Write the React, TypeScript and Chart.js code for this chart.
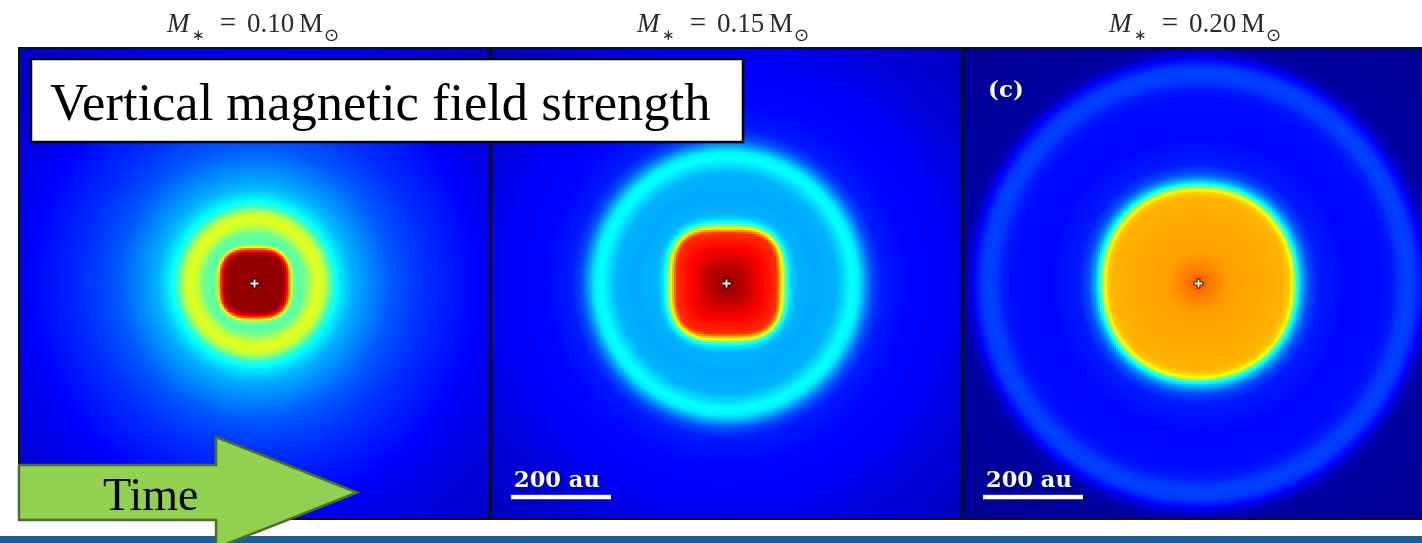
import React, { useEffect, useRef } from 'react';
import { Chart, registerables } from 'chart.js';

Chart.register(...registerables);

// Stellar mass of each snapshot (solar masses)
const stellarMasses = ['0.10', '0.15', '0.20'];

// Radial profiles of the normalised vertical field |Bz| (colour-scale units, 0..1)
// against distance from the protostar in au.
const radiusAuA = [0, 56, 62, 68, 72, 76, 84, 100, 112, 126, 140, 148, 156, 170, 194, 220, 274, 340, 414, 474, 560, 670];
const fieldA = [0.98, 0.98, 0.93, 0.8, 0.65, 0.52, 0.46, 0.48, 0.55, 0.6, 0.57, 0.5, 0.42, 0.36, 0.3, 0.27, 0.21, 0.17, 0.14, 0.115, 0.09, 0.065];

const radiusAuB = [0, 20, 40, 60, 80, 100, 106, 112, 120, 128, 140, 180, 220, 236, 250, 264, 276, 290, 310, 360, 440, 520, 670];
const fieldB = [0.97, 0.96, 0.93, 0.89, 0.86, 0.83, 0.72, 0.6, 0.42, 0.34, 0.3, 0.29, 0.3, 0.34, 0.38, 0.36, 0.28, 0.2, 0.15, 0.13, 0.12, 0.09, 0.06];

const radiusAuC = [0, 20, 60, 120, 170, 180, 188, 194, 200, 208, 220, 240, 300, 370, 390, 404, 418, 432, 448, 462, 480, 680];
const fieldC = [0.8, 0.76, 0.72, 0.71, 0.7, 0.68, 0.62, 0.47, 0.37, 0.28, 0.2, 0.15, 0.13, 0.135, 0.15, 0.18, 0.19, 0.18, 0.13, 0.06, 0.03, 0.02];

// Squareness of the inner magnetised core (superellipse exponent) and its size in au
const coreExponent = [3.2, 3.4, 2.15];
const coreRadiusAu = [66, 108, 190];

// Scale bar length (au) and panel tags
const scaleBarAu = 200;
const scaleBarShown = [false, true, true];
const panelTags = ['', '', '(c)'];

// Half width of each panel (au)
const halfWidthAu = 473;

const profiles = [
  { r: radiusAuA, v: fieldA },
  { r: radiusAuB, v: fieldB },
  { r: radiusAuC, v: fieldC },
];

function jet(v: number): string {
  const c = (t: number) => Math.max(0, Math.min(1, t));
  const r = c(1.5 - Math.abs(4 * v - 3));
  const g = c(1.5 - Math.abs(4 * v - 2));
  const b = c(1.5 - Math.abs(4 * v - 1));
  return `rgb(${Math.round(r * 255)},${Math.round(g * 255)},${Math.round(b * 255)})`;
}

function lookup(rs: number[], vs: number[], r: number): number {
  if (r <= rs[0]) return vs[0];
  for (let i = 1; i < rs.length; i++) {
    if (r <= rs[i]) {
      const t = (r - rs[i - 1]) / (rs[i] - rs[i - 1]);
      return vs[i - 1] + t * (vs[i] - vs[i - 1]);
    }
  }
  return vs[vs.length - 1];
}

// Paints the |Bz| map cell by cell, positioned through the chart's x/y scales
const fieldPlugin = {
  id: 'bzField',
  beforeDatasetsDraw(chart: any, _args: any, opts: any) {
    const { ctx, chartArea } = chart;
    const xs = chart.scales.x;
    const ys = chart.scales.y;
    const { radii, values, exponent, core } = opts;
    const step = 4;
    ctx.save();
    ctx.beginPath();
    ctx.rect(chartArea.left, chartArea.top, chartArea.right - chartArea.left, chartArea.bottom - chartArea.top);
    ctx.clip();
    for (let gx = -halfWidthAu; gx < halfWidthAu; gx += step) {
      const px0 = Math.round(xs.getPixelForValue(gx));
      const px1 = Math.round(xs.getPixelForValue(gx + step));
      const cx = gx + step / 2;
      for (let gy = -halfWidthAu; gy < halfWidthAu; gy += step) {
        const py0 = Math.round(ys.getPixelForValue(gy + step));
        const py1 = Math.round(ys.getPixelForValue(gy));
        const cy = gy + step / 2;
        const rc = Math.hypot(cx, cy);
        const rsq = Math.pow(Math.pow(Math.abs(cx), exponent) + Math.pow(Math.abs(cy), exponent), 1 / exponent);
        const t = Math.max(0, Math.min(1, (rc - 1.1 * core) / (0.6 * core)));
        const reff = rsq * (1 - t) + rc * t;
        ctx.fillStyle = jet(lookup(radii, values, reff));
        ctx.fillRect(px0, py0, px1 - px0, py1 - py0);
      }
    }
    ctx.restore();
  },
};

// Frame, scale bar and panel tag
const marksPlugin = {
  id: 'panelMarks',
  afterDatasetsDraw(chart: any, _args: any, opts: any) {
    const { ctx, chartArea } = chart;
    const xs = chart.scales.x;
    const ys = chart.scales.y;
    ctx.save();
    ctx.shadowColor = 'rgba(0,0,40,0.75)';
    ctx.shadowOffsetX = 1;
    ctx.shadowOffsetY = 1;
    ctx.shadowBlur = 1.5;
    ctx.fillStyle = '#ffffff';
    ctx.textAlign = 'left';
    ctx.textBaseline = 'alphabetic';
    if (opts.scaleBar) {
      const x0 = xs.getPixelForValue(-431);
      const x1 = xs.getPixelForValue(-431 + scaleBarAu);
      const yb = ys.getPixelForValue(-427);
      ctx.fillRect(x0, yb - 2.2, x1 - x0, 4.5);
      ctx.font = 'bold 22.5px "DejaVu Serif", serif';
      ctx.fillText(`${scaleBarAu} au`, x0 + 3, yb - 10);
    }
    if (opts.tag) {
      ctx.font = 'bold 23px "DejaVu Serif", serif';
      ctx.fillText(opts.tag, xs.getPixelForValue(-421), ys.getPixelForValue(373));
    }
    ctx.restore();
    ctx.save();
    ctx.strokeStyle = '#111111';
    ctx.lineWidth = 2;
    ctx.strokeRect(chartArea.left + 1, chartArea.top + 1, chartArea.right - chartArea.left - 2, chartArea.bottom - chartArea.top - 2);
    ctx.restore();
  },
};

function Panel({ index, left }: { index: number; left: number }) {
  const ref = useRef<HTMLCanvasElement | null>(null);
  useEffect(() => {
    if (!ref.current) return;
    const prof = profiles[index];
    const chart = new Chart(ref.current, {
      type: 'scatter',
      data: {
        datasets: [
          {
            data: [{ x: 0, y: 0 }],
            pointStyle: 'cross',
            pointRadius: 4,
            borderColor: '#ffffff',
            backgroundColor: '#ffffff',
            borderWidth: 1.8,
          },
          {
            data: [{ x: 0, y: 0 }],
            pointStyle: 'cross',
            pointRadius: 5,
            borderColor: 'rgba(0,0,0,0.85)',
            backgroundColor: '#000000',
            borderWidth: 3.6,
          },
        ],
      },
      options: {
        animation: false,
        responsive: false,
        maintainAspectRatio: false,
        events: [],
        layout: { padding: 0, autoPadding: false },
        scales: {
          x: { type: 'linear', min: -halfWidthAu, max: halfWidthAu, display: false },
          y: { type: 'linear', min: -halfWidthAu, max: halfWidthAu, display: false },
        },
        plugins: {
          legend: { display: false },
          tooltip: { enabled: false },
          bzField: {
            radii: prof.r,
            values: prof.v,
            exponent: coreExponent[index],
            core: coreRadiusAu[index],
          },
          panelMarks: { scaleBar: scaleBarShown[index], tag: panelTags[index] },
        } as any,
      },
      plugins: [fieldPlugin, marksPlugin],
    });
    return () => chart.destroy();
  }, [index]);
  return (
    <canvas
      ref={ref}
      width={473}
      height={473}
      style={{ position: 'absolute', left, top: 47, width: 473, height: 473 }}
    />
  );
}

function MassTitle({ cx, mass }: { cx: number; mass: string }) {
  const font = '"Liberation Serif", "DejaVu Serif", serif';
  return (
    <g fill="#2b2b2b" fontFamily={font}>
      <text x={cx - 89} y={32} fontSize={27} fontStyle="italic">M</text>
      <text x={cx - 64} y={40} fontSize={15} fontFamily='"DejaVu Sans", sans-serif'>∗</text>
      <text x={cx - 28} y={32} fontSize={29} textAnchor="middle">=</text>
      <text x={cx - 9} y={32} fontSize={27}>{mass}</text>
      <text x={cx + 43} y={32} fontSize={27}>M</text>
      <text x={cx + 68} y={41} fontSize={18} fontFamily='"DejaVu Sans", sans-serif'>⊙</text>
    </g>
  );
}

export default function App() {
  const panelLefts = [18, 490, 962];
  const titleCenters = [256, 726, 1198];
  return (
    <div
      style={{
        position: 'absolute',
        left: 0,
        top: 0,
        width: 1422,
        height: 543,
        overflow: 'hidden',
        background: '#ffffff',
      }}
    >
      {panelLefts.map((l, i) => (
        <Panel key={i} index={i} left={l} />
      ))}
      <svg
        width={1422}
        height={543}
        style={{ position: 'absolute', left: 0, top: 0, pointerEvents: 'none' }}
      >
        {stellarMasses.map((m, i) => (
          <MassTitle key={i} cx={titleCenters[i]} mass={m} />
        ))}
        <rect x={0} y={536} width={1422} height={7} fill="#1f5d99" />
        <rect x={31} y={59} width={712} height={83} fill="#ffffff" stroke="#000000" strokeWidth={2.5} />
        <text x={50} y={120} fontSize={52.5} fontFamily='"Liberation Serif", serif' fill="#000000">
          Vertical magnetic field strength
        </text>
        <polygon
          points="19,465 216,465 216,437 357,492.5 216,548 216,520 19,520"
          fill="#92d050"
          stroke="#4b6e2b"
          strokeWidth={2.5}
          strokeLinejoin="miter"
        />
        <text x={103} y={510} fontSize={46} fontFamily='"Liberation Serif", serif' fill="#000000">
          Time
        </text>
      </svg>
    </div>
  );
}
